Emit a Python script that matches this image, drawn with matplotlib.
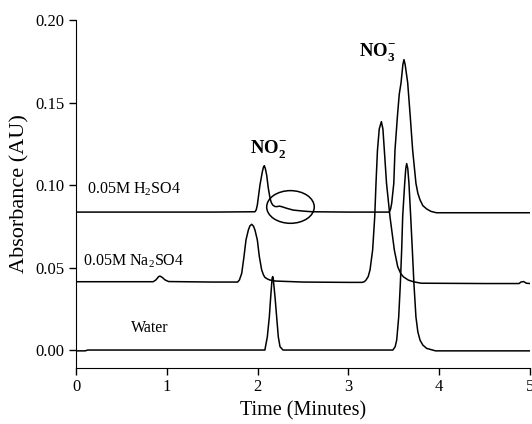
import matplotlib
matplotlib.use('Agg')
import matplotlib.pyplot as plt
from matplotlib.patches import Ellipse

plt.rcParams['font.family'] = ['Liberation Serif', 'DejaVu Serif']
plt.rcParams['mathtext.fontset'] = 'custom'
plt.rcParams['mathtext.rm'] = 'Liberation Serif'
plt.rcParams['mathtext.bf'] = 'Liberation Serif:bold'

# Traces (time in minutes, absorbance in AU)
water_t = [0.00, 0.10, 0.13, 0.50, 1.00, 1.50, 2.00, 2.08, 2.107, 2.129, 2.144, 2.155,
           2.16, 2.166, 2.172, 2.178, 2.192, 2.21, 2.228, 2.247, 2.28, 3.00, 3.49,
           3.515, 3.532, 3.554, 3.572, 3.587, 3.598, 3.62, 3.632, 3.642, 3.654, 3.667,
           3.686, 3.704, 3.722, 3.744, 3.765, 3.789, 3.82, 3.862, 3.96, 5.00]
water_y = [-0.0005, -0.0005, 0.0, 0.0, 0.0, 0.0, 0.0, 0.0, 0.008, 0.020, 0.032, 0.040,
           0.0435, 0.0445, 0.0435, 0.040, 0.032, 0.020, 0.008, 0.002, 0.0, 0.0, 0.0,
           0.002, 0.006, 0.020, 0.040, 0.061, 0.081, 0.101, 0.110, 0.113, 0.110, 0.101,
           0.081, 0.061, 0.040, 0.020, 0.011, 0.006, 0.003, 0.001, -0.0005, -0.0005]

na_t = [0.00, 0.85, 0.88, 0.91, 0.925, 0.95, 0.98, 1.02, 1.50, 1.78, 1.80, 1.825,
        1.85, 1.872, 1.898, 1.915, 1.935, 1.955, 1.971, 1.997, 2.019, 2.045, 2.065,
        2.081, 2.11, 2.137, 2.20, 2.50, 3.00, 3.15, 3.175, 3.194, 3.218, 3.238, 3.267,
        3.29, 3.304, 3.32, 3.34, 3.363, 3.38, 3.396, 3.42, 3.458, 3.506, 3.543, 3.575,
        3.605, 3.66, 3.715, 3.80, 4.50, 4.88, 4.90, 4.93, 4.96, 5.00]
na_y = [0.0414, 0.0414, 0.0425, 0.0445, 0.0448, 0.0440, 0.0425, 0.0415, 0.0412, 0.0412,
        0.0425, 0.0465, 0.0566, 0.0667, 0.0727, 0.0752, 0.0762, 0.0750, 0.0727, 0.0667,
        0.0566, 0.0485, 0.0455, 0.0440, 0.0430, 0.0424, 0.0418, 0.0412, 0.0410, 0.0410,
        0.0414, 0.0424, 0.0445, 0.0485, 0.0606, 0.0808, 0.101, 0.121, 0.134, 0.1384,
        0.134, 0.121, 0.101, 0.0808, 0.0606, 0.0505, 0.0465, 0.0444, 0.0424, 0.0414,
        0.0405, 0.0403, 0.0403, 0.0412, 0.0415, 0.0405, 0.0403]

h2_t = [0.00, 1.50, 1.971, 1.985, 1.997, 2.026, 2.052, 2.065, 2.074, 2.085, 2.10, 2.118,
        2.137, 2.15, 2.166, 2.19, 2.21, 2.24, 2.265, 2.32, 2.393, 2.503, 2.60, 3.00,
        3.45, 3.465, 3.477, 3.50, 3.513, 3.539, 3.56, 3.58, 3.60, 3.612, 3.625, 3.653,
        3.682, 3.708, 3.744, 3.765, 3.789, 3.82, 3.862, 3.91, 3.97, 5.00]
h2_y = [0.0836, 0.0836, 0.0838, 0.0850, 0.0879, 0.100, 0.108, 0.111, 0.1117, 0.110,
        0.106, 0.098, 0.092, 0.0895, 0.0879, 0.0870, 0.0869, 0.0872, 0.0869, 0.0859,
        0.0848, 0.0842, 0.0838, 0.0836, 0.0836, 0.0855, 0.089, 0.101, 0.121, 0.141,
        0.155, 0.162, 0.173, 0.176, 0.173, 0.162, 0.141, 0.121, 0.101, 0.095, 0.091,
        0.0875, 0.0855, 0.0840, 0.0832, 0.0832]

fig = plt.figure(figsize=(5.32, 4.24), dpi=100)
ax = fig.add_axes([0.1429, 0.1328, 0.8533, 0.82])

for t, y in [(water_t, water_y), (na_t, na_y), (h2_t, h2_y)]:
    ax.plot(t, y, color='black', lw=1.1)

# circle marking the shoulder on the nitrite peak
ax.add_patch(Ellipse((2.362, 0.0867), 0.524, 0.0198, fill=False, ec='black', lw=1.1))

ax.text(0.12, 0.095, '0.05M H$_2$SO4', fontsize=11.5)
ax.text(0.077, 0.0515, '0.05M Na$_2$SO4', fontsize=11.5)
ax.text(0.606, 0.0111, 'Water', fontsize=11.5)
ax.text(1.916, 0.119, r'$\mathbf{NO}_\mathbf{2}^{\mathbf{-}}$', fontsize=13.5)
ax.text(3.12, 0.178, r'$\mathbf{NO}_\mathbf{3}^{\mathbf{-}}$', fontsize=13.5)

ax.set_xlim(0, 5)
ax.set_ylim(-0.0107, 0.20)
ax.set_xticks([0, 1, 2, 3, 4, 5])
ax.set_yticks([0.00, 0.05, 0.10, 0.15, 0.20])
ax.set_yticklabels(['0.00', '0.05', '0.10', '0.15', '0.20'])
ax.tick_params(labelsize=12, length=5, width=1, direction='out')
ax.spines['top'].set_visible(False)
ax.spines['right'].set_visible(False)
ax.set_xlabel('Time (Minutes)', fontsize=14.5, labelpad=4)
ax.set_ylabel('Absorbance (AU)', fontsize=16, labelpad=4)

plt.savefig('out.png', dpi=100)
